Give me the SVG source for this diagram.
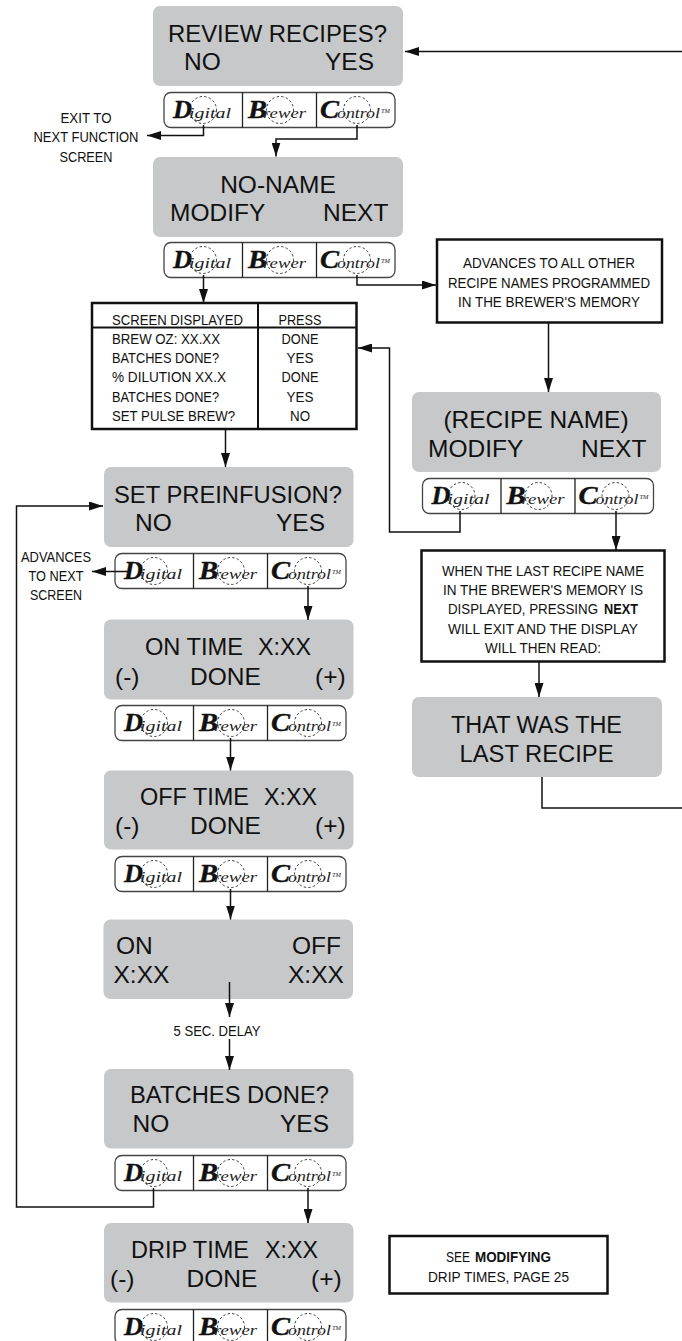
<svg xmlns="http://www.w3.org/2000/svg" width="682" height="1341" viewBox="0 0 682 1341">
<style>
.lcd{fill:#c7c8ca}
.lt{font-family:"Liberation Sans",Arial,sans-serif;font-size:24.500px;fill:#111}
.sm{font-family:"Liberation Sans",Arial,sans-serif;font-size:15.500px;fill:#111}
.b{font-weight:bold}
.m{text-anchor:middle}
.pad{fill:#fff;stroke:#444;stroke-width:1.3}
.div{stroke:#222;stroke-width:1.3}
.dash{fill:none;stroke:#222;stroke-width:.9;stroke-dasharray:2.4 2.2}
.big{font-family:"Liberation Serif",serif;font-style:italic;font-weight:bold;font-size:26px;fill:#111;stroke:#111;stroke-width:.4}
.low{font-family:"Liberation Serif",serif;font-style:italic;font-size:15px;fill:#222}
.tm{font-family:"Liberation Serif",serif;font-style:italic;font-size:6px;fill:#222}
.box{fill:#fff;stroke:#111;stroke-width:2.5}
.c{fill:none;stroke:#111;stroke-width:1.5}
</style>
<defs><marker id="a" markerUnits="userSpaceOnUse" markerWidth="15" markerHeight="9" refX="14" refY="4.500" orient="auto"><path d="M0 0L14 4.500L0 9Z" fill="#111"/></marker></defs>
<g id="n-review"><rect class="lcd" x="153" y="6" width="250" height="80" rx="7"/><text class="lt" x="168" y="42" textLength="219" lengthAdjust="spacingAndGlyphs">REVIEW RECIPES?</text><text class="lt" x="184" y="70">NO</text><text class="lt" x="325" y="70">YES</text></g>
<g id="n-noname"><rect class="lcd" x="153" y="157" width="250" height="80" rx="7"/><text class="lt m" x="278" y="193">NO-NAME</text><text class="lt" x="170" y="221">MODIFY</text><text class="lt" x="323" y="221">NEXT</text></g>
<g id="n-exit"><text class="sm m" x="86" y="123" textLength="51" lengthAdjust="spacingAndGlyphs">EXIT TO</text><text class="sm m" x="86" y="142" textLength="105" lengthAdjust="spacingAndGlyphs">NEXT FUNCTION</text><text class="sm m" x="86" y="162" textLength="53" lengthAdjust="spacingAndGlyphs">SCREEN</text></g>
<g id="n-table"><rect class="box" x="92" y="303" width="264.500" height="126"/><path d="M258 303V429M92 327.500H356" stroke="#111" stroke-width="2" fill="none"/>
<g class="sm"><text x="112" y="325" textLength="131" lengthAdjust="spacingAndGlyphs">SCREEN DISPLAYED</text><text x="112" y="344" textLength="108" lengthAdjust="spacingAndGlyphs">BREW OZ: XX.XX</text><text x="112" y="363" textLength="107" lengthAdjust="spacingAndGlyphs">BATCHES DONE?</text><text x="112" y="382" textLength="114" lengthAdjust="spacingAndGlyphs">% DILUTION XX.X</text><text x="112" y="402" textLength="107" lengthAdjust="spacingAndGlyphs">BATCHES DONE?</text><text x="112" y="421" textLength="123" lengthAdjust="spacingAndGlyphs">SET PULSE BREW?</text>
<text class="m" x="300" y="325" textLength="43" lengthAdjust="spacingAndGlyphs">PRESS</text><text class="m" x="300" y="344" textLength="37" lengthAdjust="spacingAndGlyphs">DONE</text><text class="m" x="300" y="363" textLength="27" lengthAdjust="spacingAndGlyphs">YES</text><text class="m" x="300" y="382" textLength="37" lengthAdjust="spacingAndGlyphs">DONE</text><text class="m" x="300" y="402" textLength="27" lengthAdjust="spacingAndGlyphs">YES</text><text class="m" x="300" y="421" textLength="20" lengthAdjust="spacingAndGlyphs">NO</text></g></g>
<g id="n-advances"><rect class="box" x="437" y="239.500" width="225" height="83"/><text class="sm m" x="549" y="268" textLength="172" lengthAdjust="spacingAndGlyphs">ADVANCES TO ALL OTHER</text><text class="sm m" x="549" y="288" textLength="202" lengthAdjust="spacingAndGlyphs">RECIPE NAMES PROGRAMMED</text><text class="sm m" x="549" y="307" textLength="182" lengthAdjust="spacingAndGlyphs">IN THE BREWER'S MEMORY</text></g>
<g id="n-recipe"><rect class="lcd" x="412" y="392" width="249" height="80" rx="7"/><text class="lt m" x="536" y="428">(RECIPE NAME)</text><text class="lt" x="428" y="457">MODIFY</text><text class="lt" x="581" y="457">NEXT</text></g>
<g id="n-last-note"><rect class="box" x="421.500" y="550.500" width="243" height="111"/><g class="sm"><text class="m" x="543" y="576" textLength="202" lengthAdjust="spacingAndGlyphs">WHEN THE LAST RECIPE NAME</text><text class="m" x="543" y="595" textLength="200" lengthAdjust="spacingAndGlyphs">IN THE BREWER'S MEMORY IS</text><text x="448" y="614" textLength="150" lengthAdjust="spacingAndGlyphs">DISPLAYED, PRESSING</text><text class="b" x="604" y="614" textLength="34" lengthAdjust="spacingAndGlyphs">NEXT</text><text class="m" x="543" y="634" textLength="190" lengthAdjust="spacingAndGlyphs">WILL EXIT AND THE DISPLAY</text><text class="m" x="543" y="653" textLength="116" lengthAdjust="spacingAndGlyphs">WILL THEN READ:</text></g></g>
<g id="n-thatwas"><rect class="lcd" x="412" y="697" width="250" height="80" rx="7"/><text class="lt m" x="536.500" y="733" textLength="171" lengthAdjust="spacingAndGlyphs">THAT WAS THE</text><text class="lt m" x="536.500" y="762" textLength="154" lengthAdjust="spacingAndGlyphs">LAST RECIPE</text></g>
<g id="n-preinf"><rect class="lcd" x="104" y="467" width="249.500" height="80" rx="7"/><text class="lt" x="114" y="503" textLength="228" lengthAdjust="spacingAndGlyphs">SET PREINFUSION?</text><text class="lt" x="135" y="531">NO</text><text class="lt" x="276" y="531">YES</text></g>
<g id="n-advnext"><text class="sm m" x="56" y="562" textLength="70" lengthAdjust="spacingAndGlyphs">ADVANCES</text><text class="sm m" x="56" y="581" textLength="55" lengthAdjust="spacingAndGlyphs">TO NEXT</text><text class="sm m" x="56" y="600" textLength="52" lengthAdjust="spacingAndGlyphs">SCREEN</text></g>
<g id="n-ontime"><rect class="lcd" x="104" y="619.500" width="249.500" height="80" rx="7"/><text class="lt" x="145" y="655" textLength="98" lengthAdjust="spacingAndGlyphs">ON TIME</text><text class="lt" x="258" y="655" textLength="53" lengthAdjust="spacingAndGlyphs">X:XX</text><text class="lt" x="115" y="685">(-)</text><text class="lt m" x="225.500" y="685">DONE</text><text class="lt" x="315" y="685">(+)</text></g>
<g id="n-offtime"><rect class="lcd" x="104" y="770.500" width="249.500" height="79" rx="7"/><text class="lt" x="140" y="805" textLength="109" lengthAdjust="spacingAndGlyphs">OFF TIME</text><text class="lt" x="264" y="805" textLength="53" lengthAdjust="spacingAndGlyphs">X:XX</text><text class="lt" x="115" y="834">(-)</text><text class="lt m" x="225.500" y="834">DONE</text><text class="lt" x="315" y="834">(+)</text></g>
<g id="n-onoff"><rect class="lcd" x="103.500" y="919.500" width="249.500" height="79.500" rx="7"/><text class="lt" x="116" y="954">ON</text><text class="lt" x="292" y="954">OFF</text><text class="lt" x="113.500" y="983">X:XX</text><text class="lt" x="288" y="983">X:XX</text></g>
<g id="n-delay"><text class="sm m" x="217" y="1036" textLength="87" lengthAdjust="spacingAndGlyphs">5 SEC. DELAY</text></g>
<g id="n-batches"><rect class="lcd" x="104" y="1069" width="249.500" height="79.500" rx="7"/><text class="lt m" x="229.500" y="1103" textLength="199" lengthAdjust="spacingAndGlyphs">BATCHES DONE?</text><text class="lt" x="132.500" y="1132">NO</text><text class="lt" x="280" y="1132">YES</text></g>
<g id="n-drip"><rect class="lcd" x="104" y="1223" width="249.500" height="79.500" rx="7"/><text class="lt" x="131" y="1258" textLength="118" lengthAdjust="spacingAndGlyphs">DRIP TIME</text><text class="lt" x="265" y="1258" textLength="53" lengthAdjust="spacingAndGlyphs">X:XX</text><text class="lt" x="110" y="1287">(-)</text><text class="lt m" x="222" y="1287">DONE</text><text class="lt" x="311" y="1287">(+)</text></g>
<g id="n-see"><rect class="box" x="389.500" y="1236" width="218" height="57.500"/><text class="sm" x="446" y="1262" textLength="24" lengthAdjust="spacingAndGlyphs">SEE</text><text class="sm b" x="475" y="1262" textLength="76" lengthAdjust="spacingAndGlyphs">MODIFYING</text><text class="sm m" x="498.500" y="1282" textLength="141" lengthAdjust="spacingAndGlyphs">DRIP TIMES, PAGE 25</text></g>
<g id="pad1" transform="translate(164 92.500)"><rect class="pad" width="231" height="35" rx="7"/><path class="div" d="M78.500 0V35M152.500 0V35"/><circle class="dash" cx="39" cy="17.500" r="13.500"/><circle class="dash" cx="116" cy="17.500" r="13.500"/><circle class="dash" cx="193" cy="17.500" r="13.500"/><text class="big" x="9" y="25.500" textLength="19" lengthAdjust="spacingAndGlyphs">D</text><text class="low" x="25" y="25.500" textLength="42" lengthAdjust="spacingAndGlyphs">igital</text><text class="big" x="84" y="25.500" textLength="19" lengthAdjust="spacingAndGlyphs">B</text><text class="low" x="99" y="25.500" textLength="43" lengthAdjust="spacingAndGlyphs">rewer</text><text class="big" x="156" y="25.500" textLength="19" lengthAdjust="spacingAndGlyphs">C</text><text class="low" x="173" y="25.500" textLength="43" lengthAdjust="spacingAndGlyphs">ontrol</text><text class="tm" x="217" y="20" textLength="9" lengthAdjust="spacingAndGlyphs">TM</text></g>
<g id="pad2" transform="translate(164 242.500)"><rect class="pad" width="231" height="35" rx="7"/><path class="div" d="M78.500 0V35M152.500 0V35"/><circle class="dash" cx="39" cy="17.500" r="13.500"/><circle class="dash" cx="116" cy="17.500" r="13.500"/><circle class="dash" cx="193" cy="17.500" r="13.500"/><text class="big" x="9" y="25.500" textLength="19" lengthAdjust="spacingAndGlyphs">D</text><text class="low" x="25" y="25.500" textLength="42" lengthAdjust="spacingAndGlyphs">igital</text><text class="big" x="84" y="25.500" textLength="19" lengthAdjust="spacingAndGlyphs">B</text><text class="low" x="99" y="25.500" textLength="43" lengthAdjust="spacingAndGlyphs">rewer</text><text class="big" x="156" y="25.500" textLength="19" lengthAdjust="spacingAndGlyphs">C</text><text class="low" x="173" y="25.500" textLength="43" lengthAdjust="spacingAndGlyphs">ontrol</text><text class="tm" x="217" y="20" textLength="9" lengthAdjust="spacingAndGlyphs">TM</text></g>
<g id="pad3" transform="translate(422.500 478.500)"><rect class="pad" width="231" height="35" rx="7"/><path class="div" d="M78.500 0V35M152.500 0V35"/><circle class="dash" cx="39" cy="17.500" r="13.500"/><circle class="dash" cx="116" cy="17.500" r="13.500"/><circle class="dash" cx="193" cy="17.500" r="13.500"/><text class="big" x="9" y="25.500" textLength="19" lengthAdjust="spacingAndGlyphs">D</text><text class="low" x="25" y="25.500" textLength="42" lengthAdjust="spacingAndGlyphs">igital</text><text class="big" x="84" y="25.500" textLength="19" lengthAdjust="spacingAndGlyphs">B</text><text class="low" x="99" y="25.500" textLength="43" lengthAdjust="spacingAndGlyphs">rewer</text><text class="big" x="156" y="25.500" textLength="19" lengthAdjust="spacingAndGlyphs">C</text><text class="low" x="173" y="25.500" textLength="43" lengthAdjust="spacingAndGlyphs">ontrol</text><text class="tm" x="217" y="20" textLength="9" lengthAdjust="spacingAndGlyphs">TM</text></g>
<g id="pad4" transform="translate(115 553.500)"><rect class="pad" width="231" height="35" rx="7"/><path class="div" d="M78.500 0V35M152.500 0V35"/><circle class="dash" cx="39" cy="17.500" r="13.500"/><circle class="dash" cx="116" cy="17.500" r="13.500"/><circle class="dash" cx="193" cy="17.500" r="13.500"/><text class="big" x="9" y="25.500" textLength="19" lengthAdjust="spacingAndGlyphs">D</text><text class="low" x="25" y="25.500" textLength="42" lengthAdjust="spacingAndGlyphs">igital</text><text class="big" x="84" y="25.500" textLength="19" lengthAdjust="spacingAndGlyphs">B</text><text class="low" x="99" y="25.500" textLength="43" lengthAdjust="spacingAndGlyphs">rewer</text><text class="big" x="156" y="25.500" textLength="19" lengthAdjust="spacingAndGlyphs">C</text><text class="low" x="173" y="25.500" textLength="43" lengthAdjust="spacingAndGlyphs">ontrol</text><text class="tm" x="217" y="20" textLength="9" lengthAdjust="spacingAndGlyphs">TM</text></g>
<g id="pad5" transform="translate(115 705.500)"><rect class="pad" width="231" height="35" rx="7"/><path class="div" d="M78.500 0V35M152.500 0V35"/><circle class="dash" cx="39" cy="17.500" r="13.500"/><circle class="dash" cx="116" cy="17.500" r="13.500"/><circle class="dash" cx="193" cy="17.500" r="13.500"/><text class="big" x="9" y="25.500" textLength="19" lengthAdjust="spacingAndGlyphs">D</text><text class="low" x="25" y="25.500" textLength="42" lengthAdjust="spacingAndGlyphs">igital</text><text class="big" x="84" y="25.500" textLength="19" lengthAdjust="spacingAndGlyphs">B</text><text class="low" x="99" y="25.500" textLength="43" lengthAdjust="spacingAndGlyphs">rewer</text><text class="big" x="156" y="25.500" textLength="19" lengthAdjust="spacingAndGlyphs">C</text><text class="low" x="173" y="25.500" textLength="43" lengthAdjust="spacingAndGlyphs">ontrol</text><text class="tm" x="217" y="20" textLength="9" lengthAdjust="spacingAndGlyphs">TM</text></g>
<g id="pad6" transform="translate(115 856.500)"><rect class="pad" width="231" height="35" rx="7"/><path class="div" d="M78.500 0V35M152.500 0V35"/><circle class="dash" cx="39" cy="17.500" r="13.500"/><circle class="dash" cx="116" cy="17.500" r="13.500"/><circle class="dash" cx="193" cy="17.500" r="13.500"/><text class="big" x="9" y="25.500" textLength="19" lengthAdjust="spacingAndGlyphs">D</text><text class="low" x="25" y="25.500" textLength="42" lengthAdjust="spacingAndGlyphs">igital</text><text class="big" x="84" y="25.500" textLength="19" lengthAdjust="spacingAndGlyphs">B</text><text class="low" x="99" y="25.500" textLength="43" lengthAdjust="spacingAndGlyphs">rewer</text><text class="big" x="156" y="25.500" textLength="19" lengthAdjust="spacingAndGlyphs">C</text><text class="low" x="173" y="25.500" textLength="43" lengthAdjust="spacingAndGlyphs">ontrol</text><text class="tm" x="217" y="20" textLength="9" lengthAdjust="spacingAndGlyphs">TM</text></g>
<g id="pad7" transform="translate(115 1155.500)"><rect class="pad" width="231" height="35" rx="7"/><path class="div" d="M78.500 0V35M152.500 0V35"/><circle class="dash" cx="39" cy="17.500" r="13.500"/><circle class="dash" cx="116" cy="17.500" r="13.500"/><circle class="dash" cx="193" cy="17.500" r="13.500"/><text class="big" x="9" y="25.500" textLength="19" lengthAdjust="spacingAndGlyphs">D</text><text class="low" x="25" y="25.500" textLength="42" lengthAdjust="spacingAndGlyphs">igital</text><text class="big" x="84" y="25.500" textLength="19" lengthAdjust="spacingAndGlyphs">B</text><text class="low" x="99" y="25.500" textLength="43" lengthAdjust="spacingAndGlyphs">rewer</text><text class="big" x="156" y="25.500" textLength="19" lengthAdjust="spacingAndGlyphs">C</text><text class="low" x="173" y="25.500" textLength="43" lengthAdjust="spacingAndGlyphs">ontrol</text><text class="tm" x="217" y="20" textLength="9" lengthAdjust="spacingAndGlyphs">TM</text></g>
<g id="pad8" transform="translate(115 1309.500)"><rect class="pad" width="231" height="35" rx="7"/><path class="div" d="M78.500 0V35M152.500 0V35"/><circle class="dash" cx="39" cy="17.500" r="13.500"/><circle class="dash" cx="116" cy="17.500" r="13.500"/><circle class="dash" cx="193" cy="17.500" r="13.500"/><text class="big" x="9" y="25.500" textLength="19" lengthAdjust="spacingAndGlyphs">D</text><text class="low" x="25" y="25.500" textLength="42" lengthAdjust="spacingAndGlyphs">igital</text><text class="big" x="84" y="25.500" textLength="19" lengthAdjust="spacingAndGlyphs">B</text><text class="low" x="99" y="25.500" textLength="43" lengthAdjust="spacingAndGlyphs">rewer</text><text class="big" x="156" y="25.500" textLength="19" lengthAdjust="spacingAndGlyphs">C</text><text class="low" x="173" y="25.500" textLength="43" lengthAdjust="spacingAndGlyphs">ontrol</text><text class="tm" x="217" y="20" textLength="9" lengthAdjust="spacingAndGlyphs">TM</text></g>
<g id="connectors">
<path class="c" marker-end="url(#a)" d="M682 51.500H405"/>
<path class="c" marker-end="url(#a)" d="M203.500 125V135.500H147"/>
<path class="c" marker-end="url(#a)" d="M357 125V139H276V156.500"/>
<path class="c" marker-end="url(#a)" d="M203.500 275V303"/>
<path class="c" marker-end="url(#a)" d="M357 275V285H436"/>
<path class="c" marker-end="url(#a)" d="M548.500 323V392"/>
<path class="c" marker-end="url(#a)" d="M460 511V532H389.500V348H358"/>
<path class="c" marker-end="url(#a)" d="M616 511V550"/>
<path class="c" marker-end="url(#a)" d="M539 661V697"/>
<path class="c" d="M542 777V808H682"/>
<path class="c" marker-end="url(#a)" d="M225.500 429V467"/>
<path class="c" marker-end="url(#a)" d="M153.500 1188V1207H16.500V506H103"/>
<path class="c" marker-end="url(#a)" d="M130 571.500H92"/>
<path class="c" marker-end="url(#a)" d="M308 586V620"/>
<path class="c" marker-end="url(#a)" d="M230.500 738V770.500"/>
<path class="c" marker-end="url(#a)" d="M230.500 889V919.500"/>
<path class="c" marker-end="url(#a)" d="M229.500 982V1017"/>
<path class="c" marker-end="url(#a)" d="M229.500 1039V1070"/>
<path class="c" marker-end="url(#a)" d="M308 1188V1223"/>
</g>
</svg>
